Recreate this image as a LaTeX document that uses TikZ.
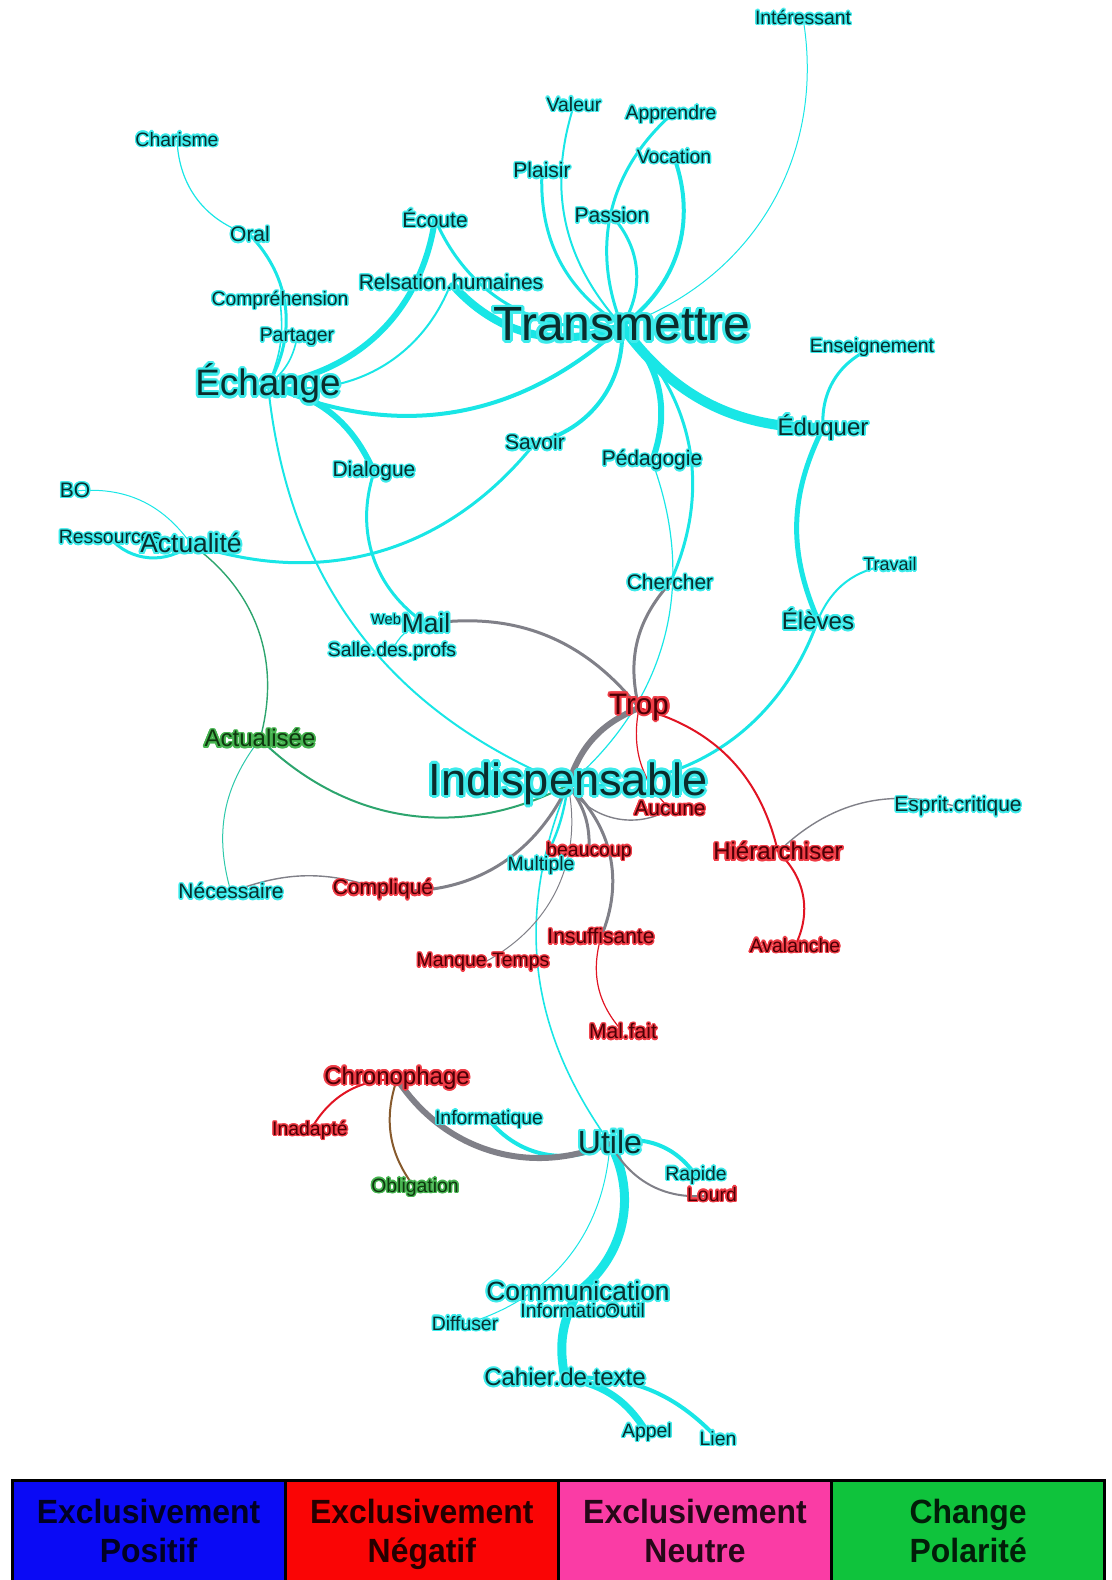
\documentclass[tikz,border=0pt]{standalone}
\usepackage{fontspec}
\setmainfont{Liberation Sans}
\setsansfont{Liberation Sans}
\newfontfamily\legfont[FakeStretch=0.95]{Liberation Sans}
\usepackage{xcolor}
\usepackage{contour}
\contourlength{0.7pt}
\usetikzlibrary{positioning, backgrounds}

\definecolor{posline}{RGB}{25,230,230}
\definecolor{posglow}{RGB}{60,235,235}
\definecolor{postext}{RGB}{10,45,45}
\definecolor{negline}{RGB}{225,20,35}
\definecolor{negglow}{RGB}{240,60,70}
\definecolor{negtext}{RGB}{75,0,5}
\definecolor{chgline}{RGB}{45,165,110}
\definecolor{chgglow}{RGB}{70,180,80}
\definecolor{chgtext}{RGB}{15,55,15}
\definecolor{neuline}{RGB}{128,128,136}
\definecolor{brownline}{RGB}{135,90,45}
\definecolor{tealline}{RGB}{45,200,170}
\definecolor{legblue}{RGB}{10,10,245}
\definecolor{legred}{RGB}{250,5,5}
\definecolor{legpink}{RGB}{250,60,165}
\definecolor{leggreen}{RGB}{15,195,60}

\newcommand{\wordsize}[1]{\fontsize{#1}{#1}\selectfont}
\newcommand{\cp}[1]{\contour{posglow}{#1}}
\newcommand{\cn}[1]{\contour{negglow}{#1}}
\newcommand{\cg}[1]{\contour{chgglow}{#1}}

\begin{document}
\begin{tikzpicture}[
        x=0.5pt, y=0.5pt,
        every node/.style={inner sep=0pt, outer sep=0pt},
        pw/.style={text=postext, font=\wordsize{10.5}},
        nw/.style={text=negtext, font=\wordsize{10.5}},
        gw/.style={text=chgtext, font=\wordsize{10.5}},
        wsmall/.style={font=\wordsize{9.7}},
        wmid/.style={font={\wordsize{12}\contourlength{0.9pt}}},
        wbig/.style={font={\wordsize{13.2}\contourlength{1pt}}},
        posedge/.style={draw=posline},
        negedge/.style={draw=negline},
        neuedge/.style={draw=neuline},
        chgedge/.style={draw=chgline},
        legbox/.style={draw, line width=1.5pt, minimum width=136.6pt, minimum height=56pt},
        legtext/.style={font=\legfont\bfseries\fontsize{16.8}{19.5}\selectfont, align=center, text depth=0pt, text=black, text opacity=0.85, yshift=2.5pt}
        ]
        \useasboundingbox (0,0) rectangle (1112,-1580);

        % Words
        \node[pw, wsmall] (interessant) at (803,-18) {\cp{Intéressant}};
        \node[pw, wsmall] (valeur) at (574,-105) {\cp{Valeur}};
        \node[pw, wsmall] (apprendre) at (671,-115) {\cp{Apprendre}};
        \node[pw, wsmall] (charisme) at (177,-140) {\cp{Charisme}};
        \node[pw, wsmall] (vocation) at (674,-157) {\cp{Vocation}};
        \node[pw] (plaisir) at (542,-171) {\cp{Plaisir}};
        \node[pw] (passion) at (612,-216) {\cp{Passion}};
        \node[pw] (ecoute) at (435,-219) {\cp{Écoute}};
        \node[pw] (oral) at (250,-235) {\cp{Oral}};
        \node[pw] (relation) at (451,-283) {\cp{Relsation.humaines}};
        \node[pw, wsmall] (comprehension) at (280,-301) {\cp{Compréhension}};
        \node[pw, font={\wordsize{24}\contourlength{1.4pt}}] (transmettre) at (622,-326) {\cp{Transmettre}};
        \node[pw, wsmall] (partager) at (297,-338) {\cp{Partager}};
        \node[pw, wsmall] (enseignement) at (872,-348) {\cp{Enseignement}};
        \node[pw, font={\wordsize{18.4}\contourlength{1.2pt}}] (echange) at (268,-385) {\cp{Échange}};
        \node[pw, wmid] (eduquer) at (823,-428) {\cp{Éduquer}};
        \node[pw] (savoir) at (535,-443) {\cp{Savoir}};
        \node[pw] (pedagogie) at (652,-461) {\cp{Pédagogie}};
        \node[pw] (dialogue) at (374,-472) {\cp{Dialogue}};
        \node[pw] (bo) at (75,-491) {\cp{BO}};
        \node[pw, wsmall] (ressources) at (110,-538) {\cp{Ressources}};
        \node[pw, wbig] (actualite) at (191,-544) {\cp{Actualité}};
        \node[pw, font=\wordsize{9}] (travail) at (890,-565) {\cp{Travail}};
        \node[pw] (chercher) at (670,-583) {\cp{Chercher}};
        \node[pw, wmid] (eleves) at (818,-620) {\cp{Élèves}};
        \node[pw, font=\wordsize{7.3}] (web) at (386,-620) {\cp{Web}};
        \node[pw, wbig] (mail) at (426,-624) {\cp{Mail}};
        \node[pw, wsmall] (salle) at (392,-652) {\cp{Salle.des.profs}};
        \node[nw, font={\wordsize{14.8}\contourlength{1pt}}] (trop) at (639,-708) {\cn{Trop}};
        \node[gw, wmid] (actualisee) at (260,-739) {\cg{Actualisée}};
        \node[nw] (aucune) at (670,-809) {\cn{Aucune}};
        \node[pw, font={\wordsize{22.6}\contourlength{1.4pt}}] (indispensable) at (568,-785) {\cp{Indispensable}};
        \node[pw] (esprit) at (958,-807) {\cp{Esprit.critique}};
        \node[nw, wmid] (hierarchiser) at (778,-852) {\cn{Hiérarchiser}};
        \node[nw, wsmall] (beaucoup) at (589,-852) {\cn{beaucoup}};
        \node[pw, wsmall] (multiple) at (541,-866) {\cp{Multiple}};
        \node[pw] (necessaire) at (231,-892) {\cp{Nécessaire}};
        \node[nw] (complique) at (383,-890) {\cn{Compliqué}};
        \node[nw] (insuffisante) at (601,-937) {\cn{Insuffisante}};
        \node[nw, wsmall] (avalanche) at (795,-946) {\cn{Avalanche}};
        \node[nw, wsmall] (manque) at (483,-963) {\cn{Manque.Temps}};
        \node[nw] (malfait) at (623,-1032) {\cn{Mal.fait}};
        \node[nw, wmid] (chronophage) at (397,-1079) {\cn{Chronophage}};
        \node[nw, wsmall] (inadapte) at (310,-1131) {\cn{Inadapté}};
        \node[pw, wsmall] (informatique) at (489,-1120) {\cp{Informatique}};
        \node[pw, font={\wordsize{16}\contourlength{1.1pt}}] (utile) at (610,-1143) {\cp{Utile}};
        \node[pw, wsmall] (rapide) at (696,-1176) {\cp{Rapide}};
        \node[nw, wsmall] (lourd) at (712,-1195) {\cn{Lourd}};
        \node[gw, wsmall] (obligation) at (415,-1188) {\cg{Obligation}};
        \node[pw, wbig] (communication) at (578,-1292) {\cp{Communication}};
        \node[pw, wsmall] (diffuser) at (465,-1324) {\cp{Diffuser}};
        \node[pw, wsmall] (information) at (569,-1311) {\cp{Information}};
        \node[pw, wsmall] (outil) at (625,-1311) {\cp{Outil}};
        \node[pw, wmid] (cahier) at (565,-1378) {\cp{Cahier.de.texte}};
        \node[pw, wsmall] (appel) at (647,-1433) {\cp{Appel}};
        \node[pw, wsmall] (lien) at (718,-1439) {\cp{Lien}};

        % Legend
        \node[legbox, fill=legblue, anchor=north west, label={[legtext]center:{Exclusivement\\Positif}}] (lpos) at (12,-1480) {};
        \node[legbox, fill=legred, right=0pt of lpos, label={[legtext]center:{Exclusivement\\Négatif}}] (lneg) {};
        \node[legbox, fill=legpink, right=0pt of lneg, label={[legtext]center:{Exclusivement\\Neutre}}] (lneu) {};
        \node[legbox, fill=leggreen, right=0pt of lneu, label={[legtext]center:{Change\\Polarité}}] (lchg) {};

        % Links
        \begin{scope}[on background layer]
        \draw[posedge, line width=0.5pt] (transmettre.center) to[bend right=40] (interessant.center);
        \draw[posedge, line width=1pt] (transmettre.center) to[bend left=30] (valeur.center);
        \draw[posedge, line width=1.5pt] (transmettre.center) to[bend left=30] (plaisir.center);
        \draw[posedge, line width=1.5pt] (transmettre.center) to[bend left=35] (apprendre.center);
        \draw[posedge, line width=2pt] (transmettre.center) to[bend right=37] (vocation.center);
        \draw[posedge, line width=1.5pt] (transmettre.center) to[bend right=37] (passion.center);
        \draw[posedge, line width=1.5pt] (ecoute.center) to[bend right=37] (transmettre.center);
        \draw[posedge, line width=4pt] (relation.center) to[bend right=35] (transmettre.center);
        \draw[posedge, line width=1pt] (relation.center) to[bend left=40] (echange.center);
        \draw[posedge, line width=3pt] (ecoute.center) to[bend left=37] (echange.center);
        \draw[posedge, line width=0.6pt] (charisme.center) to[bend right=35] (oral.center);
        \draw[posedge, line width=1.5pt] (oral.center) to[bend left=37] (echange.center);
        \draw[posedge, line width=0.8pt] (comprehension.center) to[bend left=15] (echange.center);
        \draw[posedge, line width=0.8pt] (partager.center) to[bend left=20] (echange.center);
        \draw[posedge, line width=2pt] (echange.center) to[bend right=33] (transmettre.center);
        \draw[posedge, line width=3pt] (echange.center) to[bend left=27] (dialogue.center);
        \draw[posedge, line width=1.5pt] (dialogue.center) to[bend right=37] (mail.center);
        \draw[posedge, line width=0.6pt] (mail.center) to[bend right=30] (salle.center);
        \draw[posedge, line width=1.5pt] (savoir.center) to[bend left=35] (actualite.center);
        \draw[posedge, line width=2pt] (savoir.center) to[bend right=40] (transmettre.center);
        \draw[posedge, line width=0.5pt] (bo.center) to[bend left=30] (actualite.center);
        \draw[posedge, line width=1.5pt] (ressources.center) to[bend right=45] (actualite.center);
        \draw[posedge, line width=1pt] (echange.center) to[bend right=31] (indispensable.center);
        \draw[posedge, line width=5pt] (transmettre.center) to[bend right=27] (eduquer.center);
        \draw[posedge, line width=3pt] (transmettre.center) to[bend left=33] (pedagogie.center);
        \draw[posedge, line width=1.5pt] (transmettre.center) to[bend left=35] (chercher.center);
        \draw[posedge, line width=0.6pt] (pedagogie.center) to[bend left=35] (indispensable.center);
        \draw[posedge, line width=1.5pt] (eduquer.center) to[bend left=35] (enseignement.center);
        \draw[posedge, line width=2.5pt] (eduquer.center) to[bend right=25] (eleves.center);
        \draw[posedge, line width=1pt] (eleves.center) to[bend left=30] (travail.center);
        \draw[posedge, line width=1.5pt] (eleves.center) to[bend left=37] (indispensable.center);
        \draw[posedge, line width=1.2pt] (indispensable.center) to[bend left=10] (multiple.center);
        \draw[posedge, line width=0.8pt] (indispensable.center) to[bend right=29] (utile.center);
        \draw[posedge, line width=2pt] (informatique.center) to[bend right=40] (utile.center);
        \draw[posedge, line width=2pt] (utile.center) to[bend left=35] (rapide.center);
        \draw[posedge, line width=4.5pt] (utile.center) to[bend left=40] (communication.center);
        \draw[posedge, line width=4.5pt] (communication.center) to[bend right=20] (cahier.center);
        \draw[posedge, line width=0.5pt] (utile.center) to[bend left=35] (diffuser.center);
        \draw[posedge, line width=3.5pt] (cahier.center) to[bend left=25] (appel.center);
        \draw[posedge, line width=2pt] (cahier.center) to[bend left=25] (lien.center);

        \draw[chgedge, line width=0.7pt] (actualite.center) to[bend left=35] (actualisee.center);
        \draw[chgedge, line width=1pt] (actualisee.center) to[bend right=36] (indispensable.center);
        \draw[draw=tealline, line width=0.5pt] (actualisee.center) to[bend right=27] (necessaire.center);

        \draw[neuedge, line width=0.7pt] (necessaire.center) to[bend left=20] (complique.center);
        \draw[neuedge, line width=1.5pt] (complique.center) to[bend right=35] (indispensable.center);
        \draw[neuedge, line width=1.5pt] (mail.center) to[bend left=30] (trop.center);
        \draw[neuedge, line width=1.5pt] (chercher.center) to[bend right=28] (trop.center);
        \draw[neuedge, line width=3pt] (trop.center) to[bend right=25] (indispensable.center);
        \draw[neuedge, line width=0.7pt] (hierarchiser.center) to[bend left=30] (esprit.center);
        \draw[neuedge, line width=0.7pt] (indispensable.center) to[bend right=45] (aucune.center);
        \draw[neuedge, line width=1.5pt] (indispensable.center) to[bend left=20] (beaucoup.center);
        \draw[neuedge, line width=1.5pt] (indispensable.center) to[bend left=35] (insuffisante.center);
        \draw[neuedge, line width=0.5pt] (indispensable.center) to[bend left=37] (manque.center);
        \draw[neuedge, line width=3pt] (chronophage.center) to[bend right=40] (utile.center);
        \draw[neuedge, line width=1pt] (utile.center) to[bend right=35] (lourd.center);

        \draw[negedge, line width=0.6pt] (trop.center) to[bend right=28] (aucune.center);
        \draw[negedge, line width=1pt] (trop.center) to[bend left=31] (hierarchiser.center);
        \draw[negedge, line width=1pt] (hierarchiser.center) to[bend left=37] (avalanche.center);
        \draw[negedge, line width=0.6pt] (insuffisante.center) to[bend right=29] (malfait.center);
        \draw[negedge, line width=1pt] (chronophage.center) to[bend right=30] (inadapte.center);
        \draw[draw=brownline, line width=1pt] (chronophage.center) to[bend right=28] (obligation.center);
        \end{scope}

\end{tikzpicture}
\end{document}
